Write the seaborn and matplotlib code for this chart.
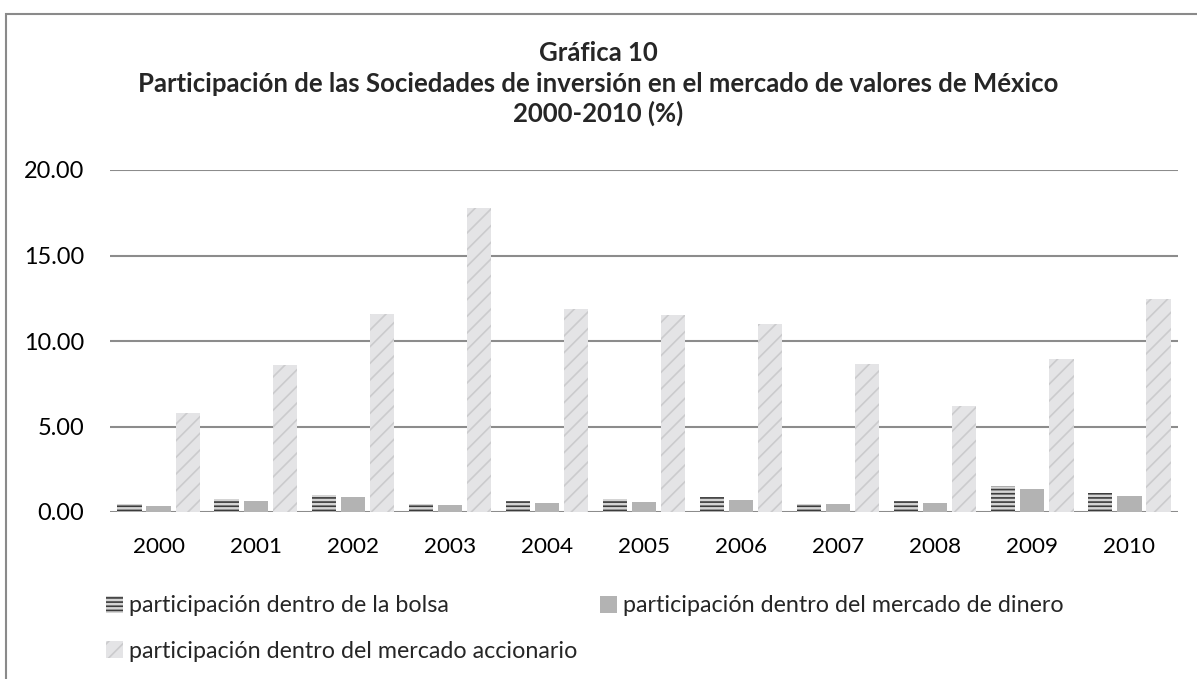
import pandas as pd
import matplotlib.pyplot as plt
import matplotlib.patches as mpatches
import seaborn as sns

# -------------------------------
# DATA
# -------------------------------
years = ["2000", "2001", "2002", "2003", "2004", "2005",
         "2006", "2007", "2008", "2009", "2010"]
bolsa = [0.45, 0.76, 0.98, 0.45, 0.63, 0.76, 0.86, 0.47, 0.63, 1.50, 1.11]
dinero = [0.37, 0.63, 0.88, 0.39, 0.51, 0.61, 0.73, 0.45, 0.51, 1.33, 0.92]
accionario = [5.80, 8.57, 11.58, 17.75, 11.87, 11.52, 11.02, 8.65, 6.18, 8.93, 12.45]

series_names = ["participación dentro de la bolsa",
                "participación dentro del mercado de dinero",
                "participación dentro del mercado accionario"]
title_lines = ["Gráfica 10",
               "Participación de las Sociedades de inversión en el mercado de valores de México",
               "2000-2010 (%)"]
yticks = [0, 5, 10, 15, 20]

df = pd.DataFrame({
    "year": years * 3,
    "value": bolsa + dinero + accionario,
    "serie": [series_names[0]] * 11 + [series_names[1]] * 11 + [series_names[2]] * 11,
})

# -------------------------------
# STYLE
# -------------------------------
sns.set_style("white")
plt.rcParams["font.family"] = ["Lato", "DejaVu Sans"]
plt.rcParams["hatch.linewidth"] = 1.2

W, H = 1197, 679

# face, hatch colour, hatch pattern for each series
looks = [("#d4d4d4", "#3c3c3c", "----"),
         ("#b3b3b3", "#b3b3b3", None),
         ("#e4e4e6", "#cbcbcd", "//")]

fig = plt.figure(figsize=(W / 100, H / 100), dpi=100)
renderer = fig.canvas.get_renderer()


def fit_size(txt, target_px, **kw):
    # font size (pt) that gives txt the width seen in the original (Calibri there)
    t = fig.text(0, 0, txt, fontsize=10, **kw)
    w = t.get_window_extent(renderer).width
    t.remove()
    return 10 * target_px / w


title_fs = fit_size(title_lines[1], 925, fontweight="bold")
legend_fs = fit_size(series_names[0], 320)
ytick_fs = fit_size("0.00", 46)
xtick_fs = fit_size("2000", 52)

ax = fig.add_axes([110 / W, 1 - 512 / H, 1068 / W, 342 / H])

sns.barplot(data=df, x="year", y="value", hue="serie", hue_order=series_names,
            palette=[l[0] for l in looks], width=0.9, gap=0.17,
            saturation=1, ax=ax, legend=True)

for cont, (face, hcol, hatch) in zip(ax.containers, looks):
    for bar in cont:
        bar.set_facecolor(face)
        bar.set_edgecolor(hcol)
        bar.set_linewidth(0)
        if hatch:
            bar.set_hatch(hatch)

handles, labels = ax.get_legend_handles_labels()
ax.get_legend().remove()
for h, (face, hcol, hatch) in zip(handles, looks):
    h.set_facecolor(face)
    h.set_edgecolor(hcol)
    h.set_linewidth(0)
    if hatch:
        h.set_hatch(hatch)

# axes
ax.set_ylim(0, 20)
ax.set_xlim(-0.5, 10.5)
ax.set_yticks(yticks)
ax.set_yticklabels([f"{v:.2f}" for v in yticks])
ax.yaxis.grid(True, color="#8c8c8c", linewidth=1.5)
ax.set_axisbelow(True)
for s in ax.spines.values():
    s.set_visible(False)
ax.tick_params(axis="both", length=0, colors="black")
ax.tick_params(axis="y", labelsize=ytick_fs, pad=18.5)
ax.tick_params(axis="x", labelsize=xtick_fs, pad=18)
ax.set_xlabel("")
ax.set_ylabel("")

# title, one line at a time (baselines in px from top)
for txt, yb in zip(title_lines, [61, 92, 122]):
    fig.text(0.5, 1 - yb / H, txt, ha="center", va="baseline",
             fontsize=title_fs, fontweight="bold")

# legend: two rows, bolsa + dinero on the first, accionario below
hl = 17 / (legend_fs * 100 / 72)
kw = dict(frameon=False, fontsize=legend_fs, handlelength=hl, handleheight=hl,
          handletextpad=0.25, borderpad=0, borderaxespad=0, loc="center left")
fig.legend([handles[0]], [labels[0]], bbox_to_anchor=(106 / W, 1 - 606 / H), **kw)
fig.legend([handles[1]], [labels[1]], bbox_to_anchor=(600 / W, 1 - 606 / H), **kw)
fig.legend([handles[2]], [labels[2]], bbox_to_anchor=(106 / W, 1 - 651 / H), **kw)

# outer chart frame
frame = mpatches.Rectangle((6 / W, -0.1), 1.2, 1.1 - 14 / H, transform=fig.transFigure,
                           fill=False, edgecolor="#8a8a8a", linewidth=1.5)
fig.patches.append(frame)

fig.savefig("out.png", dpi=100)
